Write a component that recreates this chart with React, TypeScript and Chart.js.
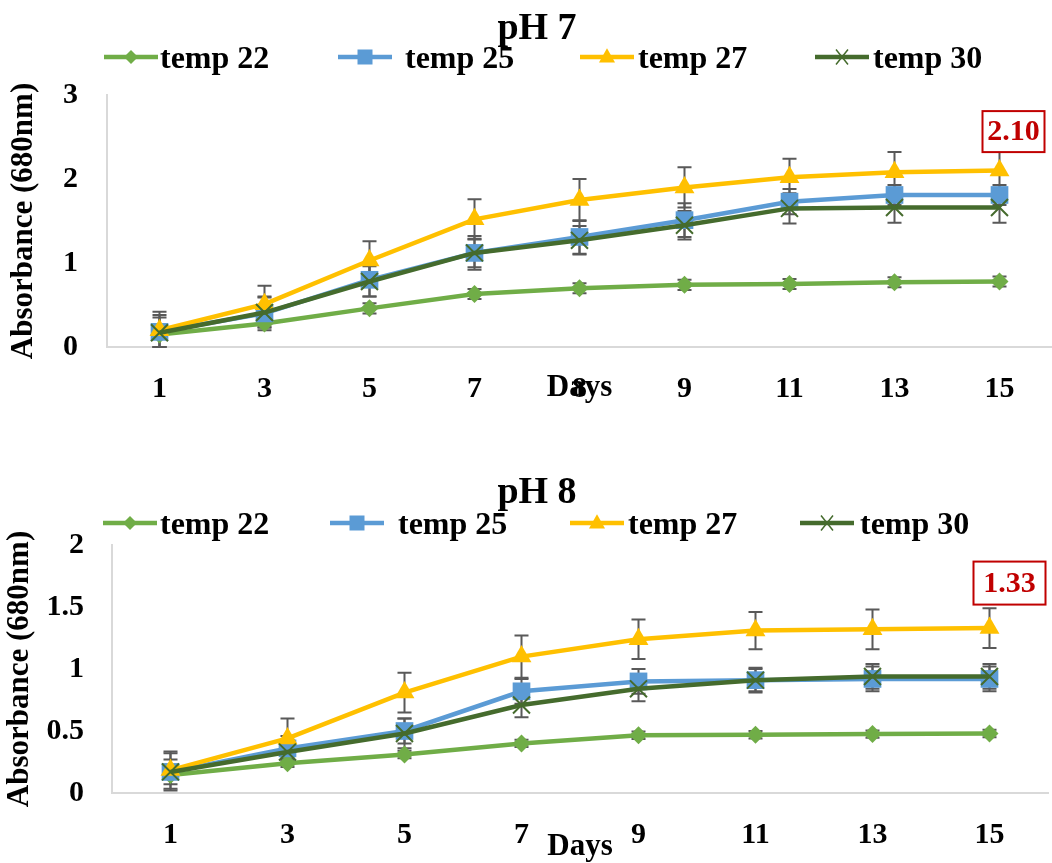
import React, { useEffect, useRef } from "react";
import { Chart, registerables } from "chart.js";

Chart.register(...registerables);

const FONT = "'Liberation Serif', 'Times New Roman', serif";

const seriesNames = ["temp 22", "temp 25", "temp 27", "temp 30"];
const seriesColors = ["#70ad47", "#5b9bd5", "#ffc000", "#456b2d"];
const seriesMarkers = ["rectRot", "rect", "triangle", "crossRot"];
const seriesMarkerRadius = [9, 12.5, 11.5, 12];
const seriesLineWidth = [4.5, 4.5, 4.5, 4.5];

// ---- pH 7 ----
const ph7Days = ["1", "3", "5", "7", "8", "9", "11", "13", "15"];
const ph7Temp22 = [0.15, 0.28, 0.46, 0.63, 0.7, 0.74, 0.75, 0.77, 0.78];
const ph7Temp25 = [0.18, 0.4, 0.8, 1.12, 1.31, 1.51, 1.73, 1.81, 1.81];
const ph7Temp27 = [0.2, 0.51, 1.03, 1.52, 1.75, 1.9, 2.02, 2.08, 2.1];
const ph7Temp30 = [0.17, 0.41, 0.78, 1.12, 1.27, 1.45, 1.65, 1.66, 1.66];
const ph7Err22 = [0.05, 0.04, 0.06, 0.06, 0.06, 0.06, 0.06, 0.06, 0.06];
const ph7Err25 = [0.2, 0.2, 0.2, 0.2, 0.2, 0.2, 0.15, 0.12, 0.12];
const ph7Err27 = [0.22, 0.22, 0.23, 0.24, 0.25, 0.24, 0.22, 0.24, 0.24];
const ph7Err30 = [0.18, 0.18, 0.18, 0.17, 0.17, 0.17, 0.18, 0.18, 0.18];
const ph7Ticks = [0, 1, 2, 3];

// ---- pH 8 ----
const ph8Days = ["1", "3", "5", "7", "9", "11", "13", "15"];
const ph8Temp22 = [0.145, 0.24, 0.31, 0.4, 0.465, 0.47, 0.475, 0.48];
const ph8Temp25 = [0.17, 0.36, 0.5, 0.82, 0.9, 0.91, 0.92, 0.92];
const ph8Temp27 = [0.185, 0.44, 0.81, 1.1, 1.24, 1.31, 1.32, 1.33];
const ph8Temp30 = [0.17, 0.33, 0.48, 0.71, 0.84, 0.91, 0.94, 0.94];
const ph8Err22 = [0.03, 0.03, 0.03, 0.03, 0.03, 0.03, 0.03, 0.03];
const ph8Err25 = [0.1, 0.1, 0.1, 0.1, 0.1, 0.09, 0.1, 0.1];
const ph8Err27 = [0.15, 0.16, 0.16, 0.17, 0.16, 0.15, 0.16, 0.16];
const ph8Err30 = [0.15, 0.1, 0.12, 0.1, 0.1, 0.1, 0.1, 0.1];
const ph8Ticks = [0, 0.5, 1, 1.5, 2];

function drawMarker(ctx: CanvasRenderingContext2D, style: string, x: number, y: number, r: number, color: string) {
  ctx.save();
  ctx.fillStyle = color;
  ctx.strokeStyle = color;
  ctx.beginPath();
  if (style === "rectRot") {
    ctx.moveTo(x, y - r);
    ctx.lineTo(x + r, y);
    ctx.lineTo(x, y + r);
    ctx.lineTo(x - r, y);
    ctx.closePath();
    ctx.fill();
  } else if (style === "rect") {
    ctx.rect(x - r, y - r, 2 * r, 2 * r);
    ctx.fill();
  } else if (style === "triangle") {
    ctx.moveTo(x, y - r * 1.1);
    ctx.lineTo(x + r, y + r * 0.7);
    ctx.lineTo(x - r, y + r * 0.7);
    ctx.closePath();
    ctx.fill();
  } else {
    ctx.lineWidth = 1.5;
    ctx.moveTo(x - r * 0.8, y - r);
    ctx.lineTo(x + r * 0.8, y + r);
    ctx.moveTo(x + r * 0.8, y - r);
    ctx.lineTo(x - r * 0.8, y + r);
    ctx.stroke();
  }
  ctx.restore();
}

const legendMarkerSize = [7, 7.5, 8, 7.5];

const headerPlugin = {
  id: "header",
  afterDraw(chart: any, _args: any, opts: any) {
    const ctx: CanvasRenderingContext2D = chart.ctx;
    ctx.save();
    ctx.fillStyle = "#000";
    ctx.font = `bold ${opts.titleSize}px ${FONT}`;
    ctx.textAlign = "center";
    ctx.textBaseline = "alphabetic";
    ctx.fillText(opts.title, opts.titleX, opts.titleY);
    ctx.font = `bold ${opts.legendSize}px ${FONT}`;
    ctx.textAlign = "left";
    chart.data.datasets.forEach((ds: any, i: number) => {
      const x0 = opts.symbolXs[i];
      const y = opts.legendY;
      ctx.strokeStyle = ds.borderColor;
      ctx.lineWidth = ds.borderWidth;
      ctx.beginPath();
      ctx.moveTo(x0, y);
      ctx.lineTo(x0 + opts.symbolW, y);
      ctx.stroke();
      drawMarker(ctx, ds.pointStyle, x0 + opts.symbolW / 2, y, legendMarkerSize[i], ds.borderColor);
      ctx.fillStyle = "#000";
      ctx.fillText(ds.label, opts.textXs[i], y + opts.legendSize * 0.33);
    });
    ctx.restore();
  },
};

const errorBarPlugin = {
  id: "errorBars",
  beforeDatasetsDraw(chart: any, _args: any, opts: any) {
    const ctx: CanvasRenderingContext2D = chart.ctx;
    const yScale = chart.scales.y;
    ctx.save();
    ctx.strokeStyle = "#595959";
    ctx.lineWidth = 2;
    chart.data.datasets.forEach((ds: any, i: number) => {
      const meta = chart.getDatasetMeta(i);
      const errs: number[] = opts.errors[i];
      meta.data.forEach((pt: any, j: number) => {
        const v = ds.data[j];
        const e = errs[j];
        const yt = yScale.getPixelForValue(v + e);
        const yb = yScale.getPixelForValue(Math.max(0, v - e));
        const x = pt.x;
        ctx.beginPath();
        ctx.moveTo(x, yt);
        ctx.lineTo(x, yb);
        ctx.moveTo(x - 7, yt);
        ctx.lineTo(x + 7, yt);
        ctx.moveTo(x - 7, yb);
        ctx.lineTo(x + 7, yb);
        ctx.stroke();
      });
    });
    ctx.restore();
  },
};

const valueBoxPlugin = {
  id: "valueBox",
  afterDatasetsDraw(chart: any, _args: any, opts: any) {
    const ctx: CanvasRenderingContext2D = chart.ctx;
    const meta = chart.getDatasetMeta(opts.datasetIndex);
    const n = meta.data.length - 1;
    const pt = meta.data[n];
    const v: number = chart.data.datasets[opts.datasetIndex].data[n];
    const cx = pt.x + opts.dx;
    const cy = pt.y + opts.dy;
    ctx.save();
    ctx.fillStyle = "#fff";
    ctx.fillRect(cx - opts.w / 2, cy - opts.h / 2, opts.w, opts.h);
    ctx.strokeStyle = "#c00000";
    ctx.lineWidth = 2;
    ctx.strokeRect(cx - opts.w / 2, cy - opts.h / 2, opts.w, opts.h);
    ctx.fillStyle = "#c00000";
    ctx.font = `bold 30px ${FONT}`;
    ctx.textAlign = "center";
    ctx.textBaseline = "middle";
    ctx.fillText(v.toFixed(2), cx, cy + 1);
    ctx.restore();
  },
};

type Cfg = {
  title: string;
  labels: string[];
  series: number[][];
  errors: number[][];
  ticks: number[];
  width: number;
  height: number;
  top: number;
  lay: any;
};

function PanelChart({ cfg }: { cfg: Cfg }) {
  const ref = useRef<HTMLCanvasElement | null>(null);
  useEffect(() => {
    if (!ref.current) return;
    const L = cfg.lay;
    const tickFont = { family: FONT, size: 30, weight: "bold" as const };
    const chart = new Chart(ref.current, {
      type: "line",
      data: {
        labels: cfg.labels,
        datasets: cfg.series.map((d, i) => ({
          label: seriesNames[i],
          data: d,
          borderColor: seriesColors[i],
          backgroundColor: seriesColors[i],
          borderWidth: seriesLineWidth[i],
          pointStyle: seriesMarkers[i] as any,
          pointRadius: seriesMarkerRadius[i],
          pointBorderWidth: i === 3 ? 2 : 0,
          pointBackgroundColor: seriesColors[i],
          pointBorderColor: seriesColors[i],
          tension: 0,
          order: 4 - i,
          clip: false as any,
        })),
      },
      options: {
        animation: false,
        responsive: false,
        events: [],
        layout: { autoPadding: false, padding: { top: L.padTop, right: L.padRight, left: 0, bottom: 0 } },
        plugins: {
          legend: { display: false },
          title: { display: false },
          tooltip: { enabled: false },
          header: {
            title: cfg.title,
            titleSize: 38,
            titleX: L.titleX,
            titleY: L.titleY,
            legendSize: 32,
            legendY: L.legendY,
            symbolXs: L.symbolXs,
            symbolW: 54,
            textXs: L.textXs,
          },
          errorBars: { errors: cfg.errors },
          valueBox: { datasetIndex: 2, dx: L.boxDx, dy: L.boxDy, w: L.boxW, h: L.boxH },
        } as any,
        scales: {
          x: {
            type: "category",
            offset: true,
            grid: { display: false, drawTicks: true, tickLength: L.xTickPad, tickColor: "rgba(0,0,0,0)" },
            border: { display: true, color: "#d9d9d9", width: 2 },
            ticks: { color: "#000", font: tickFont, padding: 0, maxRotation: 0, autoSkip: false },
            title: {
              display: true,
              text: "Days",
              color: "#000",
              font: { family: FONT, size: 31, weight: "bold", lineHeight: 1 },
              padding: { top: 0, bottom: L.xTitlePad },
            },
            afterFit: (s: any) => {
              s.height = L.xAxisH;
              s.paddingLeft = 0;
              s.paddingRight = 0;
            },
          },
          y: {
            min: cfg.ticks[0],
            max: cfg.ticks[cfg.ticks.length - 1],
            afterBuildTicks: (s: any) => {
              s.ticks = cfg.ticks.map((v) => ({ value: v }));
            },
            grid: { display: false, drawTicks: false },
            border: { display: true, color: "#d9d9d9", width: 2 },
            ticks: { color: "#000", font: tickFont, padding: L.yTickPad, callback: (v: any) => String(v) },
            title: {
              display: true,
              text: "Absorbance (680nm)",
              color: "#000",
              font: { family: FONT, size: 31, weight: "bold", lineHeight: 1 },
              padding: { top: L.yTitlePad, bottom: 0 },
            },
            afterFit: (s: any) => {
              s.width = L.yAxisW;
            },
          },
        } as any,
      },
      plugins: [errorBarPlugin, headerPlugin, valueBoxPlugin],
    });
    return () => chart.destroy();
  }, [cfg]);
  return (
    <canvas
      ref={ref}
      width={cfg.width}
      height={cfg.height}
      style={{ position: "absolute", left: 0, top: cfg.top, width: cfg.width, height: cfg.height, display: "block" }}
    />
  );
}

const topCfg: Cfg = {
  title: "pH 7",
  labels: ph7Days,
  series: [ph7Temp22, ph7Temp25, ph7Temp27, ph7Temp30],
  errors: [ph7Err22, ph7Err25, ph7Err27, ph7Err30],
  ticks: ph7Ticks,
  width: 1052,
  height: 430,
  top: 0,
  lay: {
    padTop: 95,
    padRight: 0,
    yAxisW: 107,
    xAxisH: 83,
    xTickPad: 24,
    xTitlePad: 26.5,
    yTitlePad: 8.5,
    yTickPad: 29,
    titleX: 537,
    titleY: 39,
    legendY: 57,
    symbolXs: [104, 338, 580, 815],
    textXs: [160, 405, 638, 873],
    boxDx: 14,
    boxDy: -39,
    boxW: 62,
    boxH: 41,
  },
};

const bottomCfg: Cfg = {
  title: "pH 8",
  labels: ph8Days,
  series: [ph8Temp22, ph8Temp25, ph8Temp27, ph8Temp30],
  errors: [ph8Err22, ph8Err25, ph8Err27, ph8Err30],
  ticks: ph8Ticks,
  width: 1052,
  height: 433,
  top: 430,
  lay: {
    padTop: 115,
    padRight: 4,
    yAxisW: 112,
    xAxisH: 70,
    xTickPad: 24,
    xTitlePad: 0.5,
    yTitlePad: 4.5,
    yTickPad: 28,
    titleX: 537,
    titleY: 73,
    legendY: 93,
    symbolXs: [103, 330, 570, 800],
    textXs: [160, 398, 628, 860],
    boxDx: 20,
    boxDy: -45,
    boxW: 72,
    boxH: 43,
  },
};

export default function App() {
  return (
    <div style={{ position: "absolute", left: 0, top: 0, width: 1052, height: 863, background: "#fff", overflow: "hidden" }}>
      <PanelChart cfg={topCfg} />
      <PanelChart cfg={bottomCfg} />
    </div>
  );
}
